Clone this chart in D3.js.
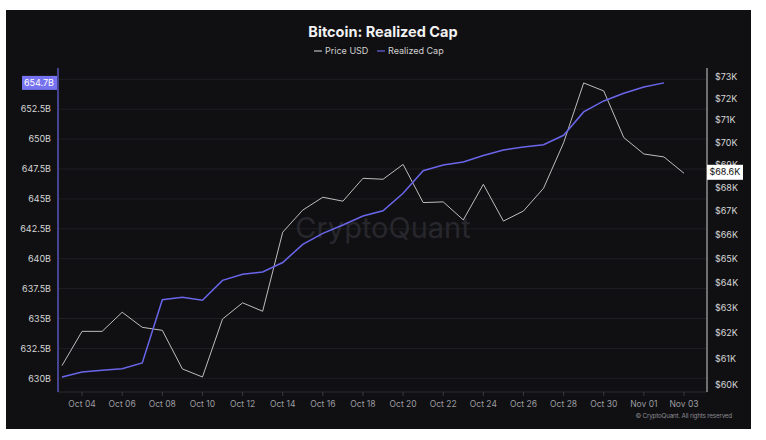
<!DOCTYPE html>
<html><head><meta charset="utf-8">
<script src="https://cdn.jsdelivr.net/npm/d3@7"></script>
<style>
body{margin:0;background:#fff;}
svg{display:block;font-family:Inter,"Noto Sans",sans-serif;}
</style>
</head><body>
<svg id="c" width="766" height="440"></svg>
<script>
// ---- data ----
const priceDates = ["2024-10-03","2024-10-04","2024-10-05","2024-10-06","2024-10-07","2024-10-08","2024-10-09","2024-10-10","2024-10-11","2024-10-12","2024-10-13","2024-10-14","2024-10-15","2024-10-16","2024-10-17","2024-10-18","2024-10-19","2024-10-20","2024-10-21","2024-10-22","2024-10-23","2024-10-24","2024-10-25","2024-10-26","2024-10-27","2024-10-28","2024-10-29","2024-10-30","2024-10-31","2024-11-01","2024-11-02","2024-11-03"];
const priceUSD = [60.72,62.06,62.06,62.82,62.22,62.10,60.59,60.28,62.55,63.20,62.86,66.11,67.05,67.60,67.43,68.42,68.38,69.03,67.37,67.40,66.63,68.16,66.58,67.01,67.99,69.99,72.71,72.34,70.22,69.49,69.36,68.64];
const capDates = priceDates.slice(0, 31);
const realizedCap = [630.11,630.53,630.67,630.80,631.28,636.57,636.77,636.52,638.19,638.70,638.89,639.68,641.20,642.12,642.82,643.57,644.01,645.47,647.36,647.83,648.09,648.63,649.09,649.34,649.53,650.32,652.27,653.19,653.83,654.36,654.70];
const leftTicks = [630,632.5,635,637.5,640,642.5,645,647.5,650,652.5];
const gridTicks = [630,632.5,635,637.5,640,642.5,645,647.5,650,652.5,655];
const rightTicks = [60,61,62,63,64,65,66,67,68,69,70,71,72,73];
const xTicks = ["2024-10-04","2024-10-06","2024-10-08","2024-10-10","2024-10-12","2024-10-14","2024-10-16","2024-10-18","2024-10-20","2024-10-22","2024-10-24","2024-10-26","2024-10-28","2024-10-30","2024-11-01","2024-11-03"];
const titleText = "Bitcoin: Realized Cap";
const seriesNames = ["Price USD","Realized Cap"];

// ---- layout ----
const svg = d3.select("#c");
const P = {l:58, r:707, t:68, b:392};
const cPrice = "#bdbdbd", cCap = "#6a66ea";
const parse = d3.utcParse("%Y-%m-%d");

svg.append("rect").attr("x",6).attr("y",10).attr("width",745).attr("height",419).attr("fill","#101013");

const x = d3.scaleUtc().domain([parse(priceDates[0]), parse(priceDates[priceDates.length-1])]).range([62,684]);
const yL = d3.scaleLinear().domain([630,655]).range([378.3,79.3]);
const yR = d3.scaleLog().domain([60,73]).range([384.3,76.7]);

// grid
svg.append("g").selectAll("line").data(gridTicks).join("line")
  .attr("x1",P.l).attr("x2",P.r).attr("y1",d=>yL(d)).attr("y2",d=>yL(d))
  .attr("stroke","#1f1f24").attr("stroke-width",1);

// watermark
svg.append("text").attr("x",383).attr("y",238).attr("text-anchor","middle")
  .attr("font-size",29).attr("fill","#27272d").text("CryptoQuant");

// title & legend
svg.append("text").attr("x",383).attr("y",37).attr("text-anchor","middle")
  .attr("font-size",14.5).attr("font-weight",700).attr("fill","#f2f2f2").text(titleText);
const leg = svg.append("g").attr("font-size",9).attr("fill","#d0d0d0");
const legItems = [{n:seriesNames[0],c:cPrice,x:314},{n:seriesNames[1],c:cCap,x:377}];
legItems.forEach(it=>{
  leg.append("line").attr("x1",it.x).attr("x2",it.x+8).attr("y1",51).attr("y2",51).attr("stroke",it.c).attr("stroke-width",1.2);
  leg.append("text").attr("x",it.x+11).attr("y",54).text(it.n);
});

// x axis
const xa = svg.append("g");
xa.append("line").attr("x1",P.l).attr("x2",P.r).attr("y1",P.b).attr("y2",P.b).attr("stroke","#2a2a30");
xa.selectAll("line.t").data(xTicks).join("line").attr("class","t")
  .attr("x1",d=>x(parse(d))).attr("x2",d=>x(parse(d))).attr("y1",P.b).attr("y2",P.b+4).attr("stroke","#3a3a40");
const fmtX = d3.utcFormat("%b %d");
xa.selectAll("text").data(xTicks).join("text")
  .attr("x",d=>x(parse(d))).attr("y",407).attr("text-anchor","middle")
  .attr("font-size",8.5).attr("fill","#9c9ca0").text(d=>fmtX(parse(d)));

// left axis
svg.append("line").attr("x1",P.l).attr("x2",P.l).attr("y1",P.t).attr("y2",P.b).attr("stroke",cCap).attr("stroke-width",1.2);
svg.append("g").selectAll("text").data(leftTicks).join("text")
  .attr("x",51).attr("y",d=>yL(d)+3.2).attr("text-anchor","end")
  .attr("font-size",9).attr("fill","#d6d6d6").text(d=>d+"B");

// right axis
svg.append("line").attr("x1",P.r).attr("x2",P.r).attr("y1",P.t).attr("y2",P.b).attr("stroke","#cfcfcf").attr("stroke-width",1);
svg.append("g").selectAll("text").data(rightTicks).join("text")
  .attr("x",715).attr("y",d=>yR(d)+3.2)
  .attr("font-size",9).attr("fill","#d6d6d6").text(d=>"$"+d+"K");

// lines
const priceData = priceDates.map((d,i)=>({d:parse(d),v:priceUSD[i]}));
const capData = capDates.map((d,i)=>({d:parse(d),v:realizedCap[i]}));
svg.append("path").datum(priceData)
  .attr("d",d3.line().x(p=>x(p.d)).y(p=>yR(p.v)))
  .attr("fill","none").attr("stroke",cPrice).attr("stroke-width",1);
svg.append("path").datum(capData)
  .attr("d",d3.line().x(p=>x(p.d)).y(p=>yL(p.v)))
  .attr("fill","none").attr("stroke",cCap).attr("stroke-width",1.5);

// last value labels
const lastCap = realizedCap[realizedCap.length-1];
const yc = yL(lastCap);
svg.append("rect").attr("x",22).attr("y",yc-7).attr("width",35).attr("height",14).attr("fill","#7773f0");
svg.append("text").attr("x",54).attr("y",yc+3.2).attr("text-anchor","end").attr("font-size",9).attr("fill","#fff").text(lastCap.toFixed(1)+"B");

const lastPrice = priceUSD[priceUSD.length-1];
const yp = yR(lastPrice)-1;
svg.append("rect").attr("x",707).attr("y",yp-7.5).attr("width",36).attr("height",15).attr("fill","#ffffff");
svg.append("text").attr("x",709.5).attr("y",yp+3.2).attr("font-size",9).attr("fill","#111").text("$"+lastPrice.toFixed(1)+"K");

// copyright
svg.append("text").attr("x",732).attr("y",418).attr("text-anchor","end")
  .attr("font-size",6.3).attr("fill","#8a8a90").attr("letter-spacing",-0.2).text("© CryptoQuant. All rights reserved");
</script>
</body></html>
